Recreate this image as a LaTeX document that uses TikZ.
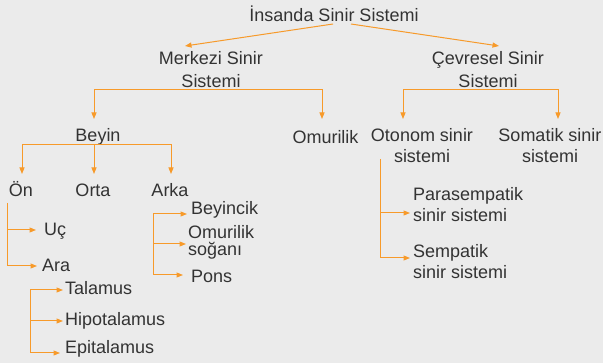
\documentclass[tikz,border=0pt]{standalone}
\usepackage{fontspec}
\setmainfont{Liberation Sans}
\usetikzlibrary{arrows.meta}
\definecolor{bg}{HTML}{EBEBEB}
\definecolor{ink}{HTML}{333333}
\definecolor{org}{HTML}{F79A2A}
\begin{document}
\begin{tikzpicture}[x=1pt,y=-1pt,
  lbl/.style={font=\fontsize{18}{21}\selectfont, text=ink, inner sep=0pt},
  ln/.style={draw=org, line width=1pt},
  arr/.style={ln, -{Triangle[length=6.5pt,width=5pt]}},
  arrtwo/.style={ln, {Triangle[length=6.5pt,width=5pt]}-{Triangle[length=6.5pt,width=5pt]}}]
\fill[bg] (0,0) rectangle (603,363);
\useasboundingbox (0,0) rectangle (603,363);

% texts
\node[lbl,anchor=base] (title) at (334,22) {İnsanda Sinir Sistemi};
\node[lbl,anchor=base] (mk) at (211,65) {\begin{tabular}[t]{@{}c@{}}Merkezi Sinir\\[2pt]Sistemi\end{tabular}};
\node[lbl,anchor=base] (cv) at (488,65) {\begin{tabular}[t]{@{}c@{}}Çevresel Sinir\\[2pt]Sistemi\end{tabular}};
\node[lbl,anchor=base] (beyin) at (98,142) {Beyin};
\node[lbl,anchor=base] (omur) at (325.5,144) {Omurilik};
\node[lbl,anchor=base] (oton) at (422,142) {\begin{tabular}[t]{@{}c@{}}Otonom sinir\\sistemi\end{tabular}};
\node[lbl,anchor=base] (som) at (550,142) {\begin{tabular}[t]{@{}c@{}}Somatik sinir\\sistemi\end{tabular}};
\node[lbl,anchor=base] (on) at (21,197) {Ön};
\node[lbl,anchor=base] (orta) at (93,197) {Orta};
\node[lbl,anchor=base] (arka) at (170,197) {Arka};
\node[lbl,anchor=base west] (uc) at (44,236) {Uç};
\node[lbl,anchor=base west] (ara) at (42,272) {Ara};
\node[lbl,anchor=base west] (tal) at (65,295) {Talamus};
\node[lbl,anchor=base west] (hipo) at (65,326) {Hipotalamus};
\node[lbl,anchor=base west] (epi) at (65,354) {Epitalamus};
\node[lbl,anchor=base west] (beyc) at (191,215) {Beyincik};
\node[lbl,anchor=base west] (osog) at (188,239) {\begin{tabular}[t]{@{}l@{}}Omurilik\\[-4pt]soğanı\end{tabular}};
\node[lbl,anchor=base west] (pons) at (191,283) {Pons};
\node[lbl,anchor=base west] (para) at (413,201) {\begin{tabular}[t]{@{}l@{}}Parasempatik\\sinir sistemi\end{tabular}};
\node[lbl,anchor=base west] (semp) at (413,258) {\begin{tabular}[t]{@{}l@{}}Sempatik\\sinir sistemi\end{tabular}};

% connector points
\coordinate (tL) at (333,24);
\coordinate (tR) at (351,24);
\coordinate (mkT) at (185,46);
\coordinate (cvT) at (499,46);
\coordinate (mkL) at (94,90);
\coordinate (mkR) at (322,90);
\coordinate (beyinT) at (94,119);
\coordinate (omurT) at (322,119);
\coordinate (cvL) at (403,90);
\coordinate (cvR) at (558,90);
\coordinate (otonT) at (403,119);
\coordinate (somT) at (558,119);
\coordinate (byL) at (22,145);
\coordinate (byM) at (94,145);
\coordinate (byR) at (171,145);
\coordinate (onT) at (22,174);
\coordinate (ortaT) at (94,174);
\coordinate (arkaT) at (171,174);
\coordinate (onA) at (7,203);
\coordinate (onU) at (7,230);
\coordinate (onB) at (7,266);
\coordinate (ucT) at (36,230);
\coordinate (araT) at (37,266);
\coordinate (akA) at (153,214);
\coordinate (akM) at (153,244);
\coordinate (akB) at (153,275);
\coordinate (beycT) at (187,214);
\coordinate (osogT) at (186,244);
\coordinate (ponsT) at (183,275);
\coordinate (arA) at (30,290);
\coordinate (arM) at (30,321);
\coordinate (arB) at (30,353);
\coordinate (talT) at (63,290);
\coordinate (hipoT) at (63,321);
\coordinate (epiT) at (60,353);
\coordinate (otA) at (380,159);
\coordinate (otM) at (380,213);
\coordinate (otB) at (380,258);
\coordinate (paraT) at (410,213);
\coordinate (sempT) at (410,258);

% connectors
\draw[arr] (tL) -- (mkT);
\draw[arr] (tR) -- (cvT);
\draw[arrtwo] (beyinT) -- (mkL) -- (mkR) -- (omurT);
\draw[arrtwo] (otonT) -- (cvL) -- (cvR) -- (somT);
\draw[arrtwo] (onT) -- (byL) -- (byR) -- (arkaT);
\draw[arr] (byM) -- (ortaT);
\draw[arr] (onA) -- (onB) -- (araT);
\draw[arr] (onU) -- (ucT);
\draw[arrtwo] (beycT) -- (akA) -- (akB) -- (ponsT);
\draw[arr] (akM) -- (osogT);
\draw[arrtwo] (talT) -- (arA) -- (arB) -- (epiT);
\draw[arr] (arM) -- (hipoT);
\draw[arr] (otA) -- (otB) -- (sempT);
\draw[arr] (otM) -- (paraT);
\end{tikzpicture}
\end{document}
